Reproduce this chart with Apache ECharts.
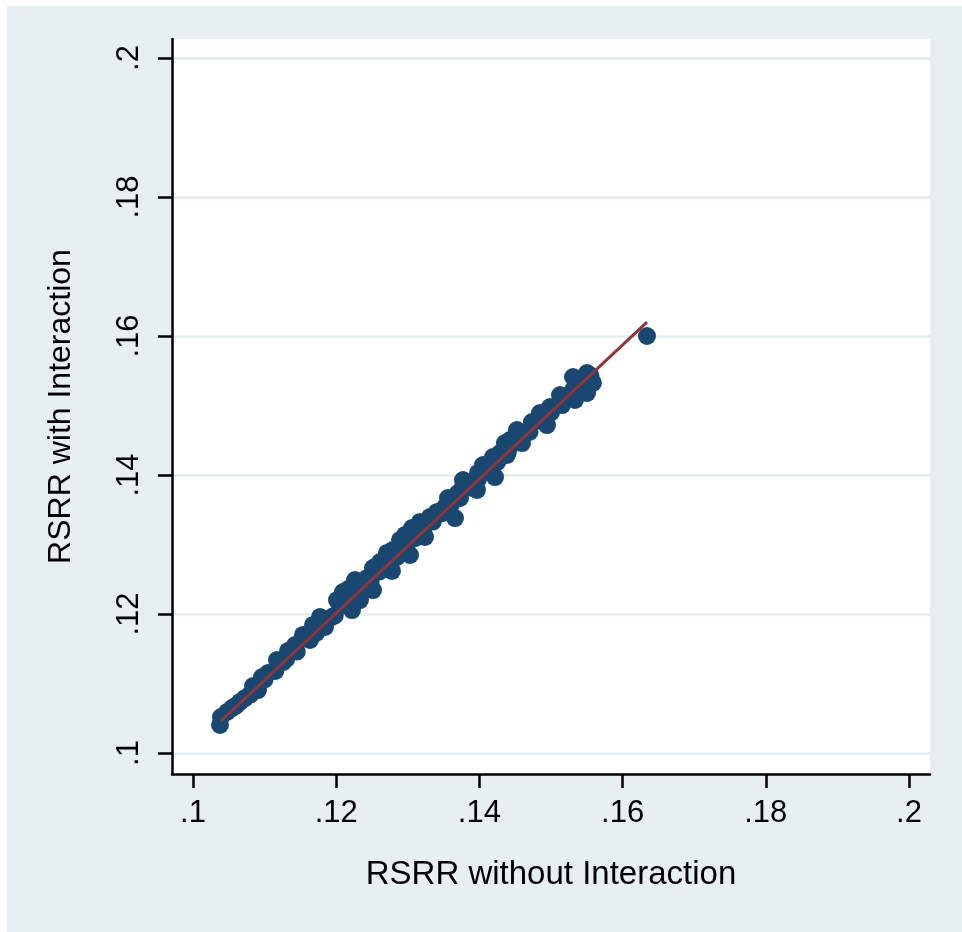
<!DOCTYPE html>
<html>
<head>
<meta charset="utf-8">
<script src="https://cdn.jsdelivr.net/npm/echarts@6/dist/echarts.min.js"></script>
<style>
html,body{margin:0;padding:0;background:#ffffff;}
#chart{width:962px;height:932px;}
</style>
</head>
<body>
<div id="chart"></div>
<script>
// RSRR without interaction (x) vs RSRR with interaction (y)
const xValues = [
  0.10377,0.10391,0.10475,0.10545,0.10656,0.10726,0.10838,0.10908,0.10964,0.11047,
  0.11173,0.11257,0.11327,0.11425,0.11536,0.11634,0.11676,0.11774,0.11844,0.11941,
  0.12053,0.12151,0.12221,0.12304,0.12374,0.12472,0.12514,0.12542,0.12011,0.12095,
  0.12193,0.12332,0.12263,0.12430,0.12514,0.12612,0.12709,0.12779,0.12793,0.12891,
  0.12961,0.13031,0.13059,0.13170,0.13240,0.13310,0.13408,0.13519,0.13561,0.13659,
  0.13701,0.13771,0.13841,0.13966,0.13980,0.14050,0.14218,0.14190,0.14288,0.14357,
  0.13771,0.14385,0.14427,0.14525,0.14595,0.14734,0.14846,0.14944,0.14986,0.15126,
  0.15154,0.15307,0.15335,0.15503,0.15503,0.15586,0.16341,
  0.1060,0.1080,0.1100,0.1115,0.1130,0.1145,0.1160,0.1172,0.1185,0.1198,
  0.1210,0.1222,0.1235,0.1248,0.1260,0.1272,0.1285,0.1298,0.1310,0.1322,
  0.1335,0.1348,0.1360,0.1373,0.1386,0.1398,0.1410,0.1425,0.1440,0.1455,
  0.1470,0.1485,0.1500,0.1515,0.1530,0.1545,0.1555
];
const yValues = [
  0.10403,0.10518,0.10590,0.10647,0.10734,0.10791,0.10964,0.10906,0.11093,0.11151,
  0.11338,0.11309,0.11468,0.11554,0.11698,0.11626,0.11842,0.11957,0.11813,0.11957,
  0.12158,0.12345,0.12057,0.12201,0.12417,0.12518,0.12345,0.12676,0.12201,0.12316,
  0.12374,0.12201,0.12489,0.12518,0.12662,0.12748,0.12878,0.12619,0.12921,0.13065,
  0.13137,0.12849,0.13237,0.13324,0.13108,0.13396,0.13468,0.13539,0.13669,0.13381,
  0.13741,0.13827,0.13899,0.13784,0.14029,0.14144,0.13971,0.14259,0.14316,0.14460,
  0.13928,0.14288,0.14503,0.14647,0.14460,0.14762,0.14892,0.14719,0.14978,0.15151,
  0.15007,0.15410,0.15079,0.15467,0.15180,0.15324,0.16000,
  0.1068,0.1084,0.1106,0.1118,0.1135,0.1146,0.1165,0.1173,0.1189,0.1198,
  0.1213,0.1221,0.1237,0.1246,0.1261,0.1273,0.1282,0.1297,0.1309,0.1317,
  0.1333,0.1345,0.1357,0.1367,0.1382,0.1394,0.1405,0.1419,0.1434,0.1449,
  0.1462,0.1478,0.1490,0.1507,0.1521,0.1535,0.1543
];
// fitted line endpoints
const fitX = [0.1039, 0.1634];
const fitY = [0.1046, 0.1620];
// tick labels
const tickValues = [0.10, 0.12, 0.14, 0.16, 0.18, 0.20];
const xTitle = 'RSRR without Interaction';
const yTitle = 'RSRR with Interaction';

const scatterData = xValues.map((x, i) => [x, yValues[i]]);
const fitData = fitX.map((x, i) => [x, fitY[i]]);
const fmt = v => String(+(+v).toFixed(2)).replace(/^0\./, '.');
const FONT = '"Liberation Sans", Arial, sans-serif';

const chart = echarts.init(document.getElementById('chart'), null, {renderer: 'canvas'});
chart.setOption({
  animation: false,
  backgroundColor: '#ffffff',
  graphic: [{
    type: 'rect', z: -100, silent: true,
    shape: {x: 7, y: 6, width: 955, height: 926},
    style: {fill: '#E8EFF1'}
  }],
  grid: {
    left: 172, top: 39, width: 758, height: 735,
    show: true, backgroundColor: '#ffffff', borderWidth: 0,
    containLabel: false
  },
  xAxis: {
    type: 'value',
    min: 0.097067, max: 0.202933,
    name: xTitle, nameLocation: 'middle', nameGap: 84,
    nameTextStyle: {fontFamily: FONT, fontSize: 33, color: '#000'},
    axisLine: {show: true, onZero: false, lineStyle: {color: '#000', width: 2.5}},
    axisTick: {show: true, customValues: tickValues, length: 14, inside: false,
      lineStyle: {color: '#000', width: 2.5}},
    axisLabel: {show: true, customValues: tickValues, formatter: fmt, margin: 24,
      fontFamily: FONT, fontSize: 31, color: '#000'},
    splitLine: {show: false}
  },
  yAxis: {
    type: 'value',
    min: 0.096978, max: 0.202734,
    name: yTitle, nameLocation: 'middle', nameGap: 95, nameRotate: 90,
    nameTextStyle: {fontFamily: FONT, fontSize: 32, color: '#000'},
    axisLine: {show: true, onZero: false, lineStyle: {color: '#000', width: 2.5}},
    axisTick: {show: true, customValues: tickValues, length: 14, inside: false,
      lineStyle: {color: '#000', width: 2.5}},
    axisLabel: {show: true, customValues: tickValues, formatter: fmt, margin: 27, rotate: 90,
      fontFamily: FONT, fontSize: 31, color: '#000'},
    splitLine: {show: true, lineStyle: {color: '#E3ECEE', width: 2.5}}
  },
  series: [
    {
      type: 'scatter', data: scatterData, symbol: 'circle', symbolSize: 18,
      itemStyle: {color: '#1A476F', opacity: 1}, z: 2
    },
    {
      type: 'line', data: fitData, showSymbol: false, symbol: 'none',
      lineStyle: {color: '#90353B', width: 3}, z: 3
    }
  ]
});
</script>
</body>
</html>
